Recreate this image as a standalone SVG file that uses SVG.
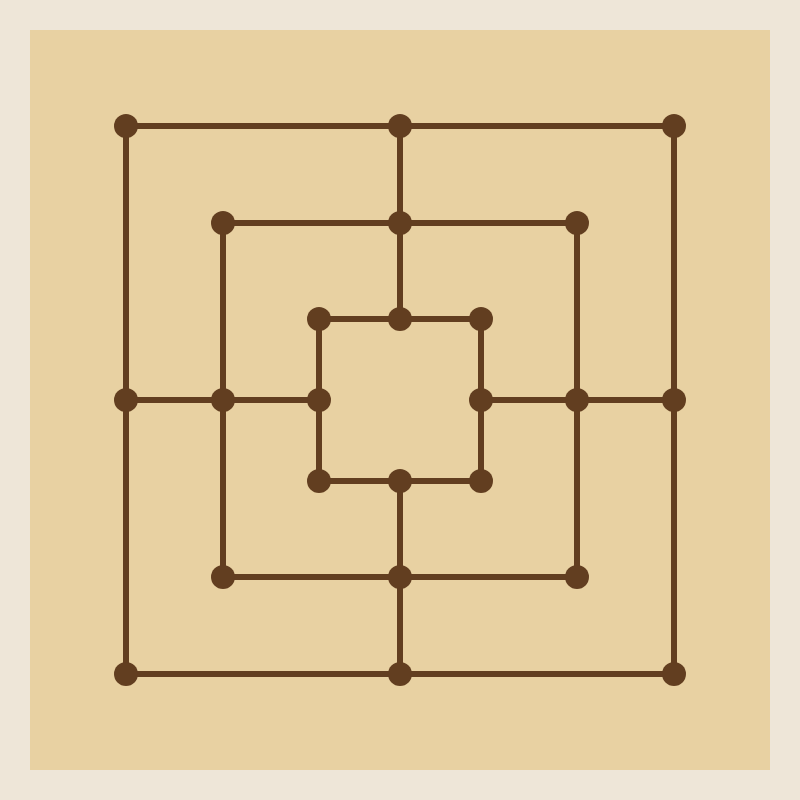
<svg xmlns="http://www.w3.org/2000/svg" width="800" height="800" viewBox="0 0 800 800">
<style>
.ln{stroke:#623E20;stroke-width:6;fill:none}
.pt{fill:#623E20}
</style>
<rect x="0" y="0" width="800" height="800" fill="#EEE6D8"/>
<rect x="30" y="30" width="740" height="740" fill="#E8D1A2"/>
<g id="connectors" class="ln">
<rect x="126" y="126" width="548" height="548"/>
<rect x="223" y="223" width="354" height="354"/>
<rect x="319" y="319" width="162" height="162"/>
<line x1="400" y1="126" x2="400" y2="319"/>
<line x1="400" y1="481" x2="400" y2="674"/>
<line x1="126" y1="400" x2="319" y2="400"/>
<line x1="481" y1="400" x2="674" y2="400"/>
</g>
<g class="pt">
<g id="n-outer"><circle cx="126" cy="126" r="12"/><circle cx="400" cy="126" r="12"/><circle cx="674" cy="126" r="12"/><circle cx="126" cy="400" r="12"/><circle cx="674" cy="400" r="12"/><circle cx="126" cy="674" r="12"/><circle cx="400" cy="674" r="12"/><circle cx="674" cy="674" r="12"/></g>
<g id="n-middle"><circle cx="223" cy="223" r="12"/><circle cx="400" cy="223" r="12"/><circle cx="577" cy="223" r="12"/><circle cx="223" cy="400" r="12"/><circle cx="577" cy="400" r="12"/><circle cx="223" cy="577" r="12"/><circle cx="400" cy="577" r="12"/><circle cx="577" cy="577" r="12"/></g>
<g id="n-inner"><circle cx="319" cy="319" r="12"/><circle cx="400" cy="319" r="12"/><circle cx="481" cy="319" r="12"/><circle cx="319" cy="400" r="12"/><circle cx="481" cy="400" r="12"/><circle cx="319" cy="481" r="12"/><circle cx="400" cy="481" r="12"/><circle cx="481" cy="481" r="12"/></g>
</g>
</svg>
